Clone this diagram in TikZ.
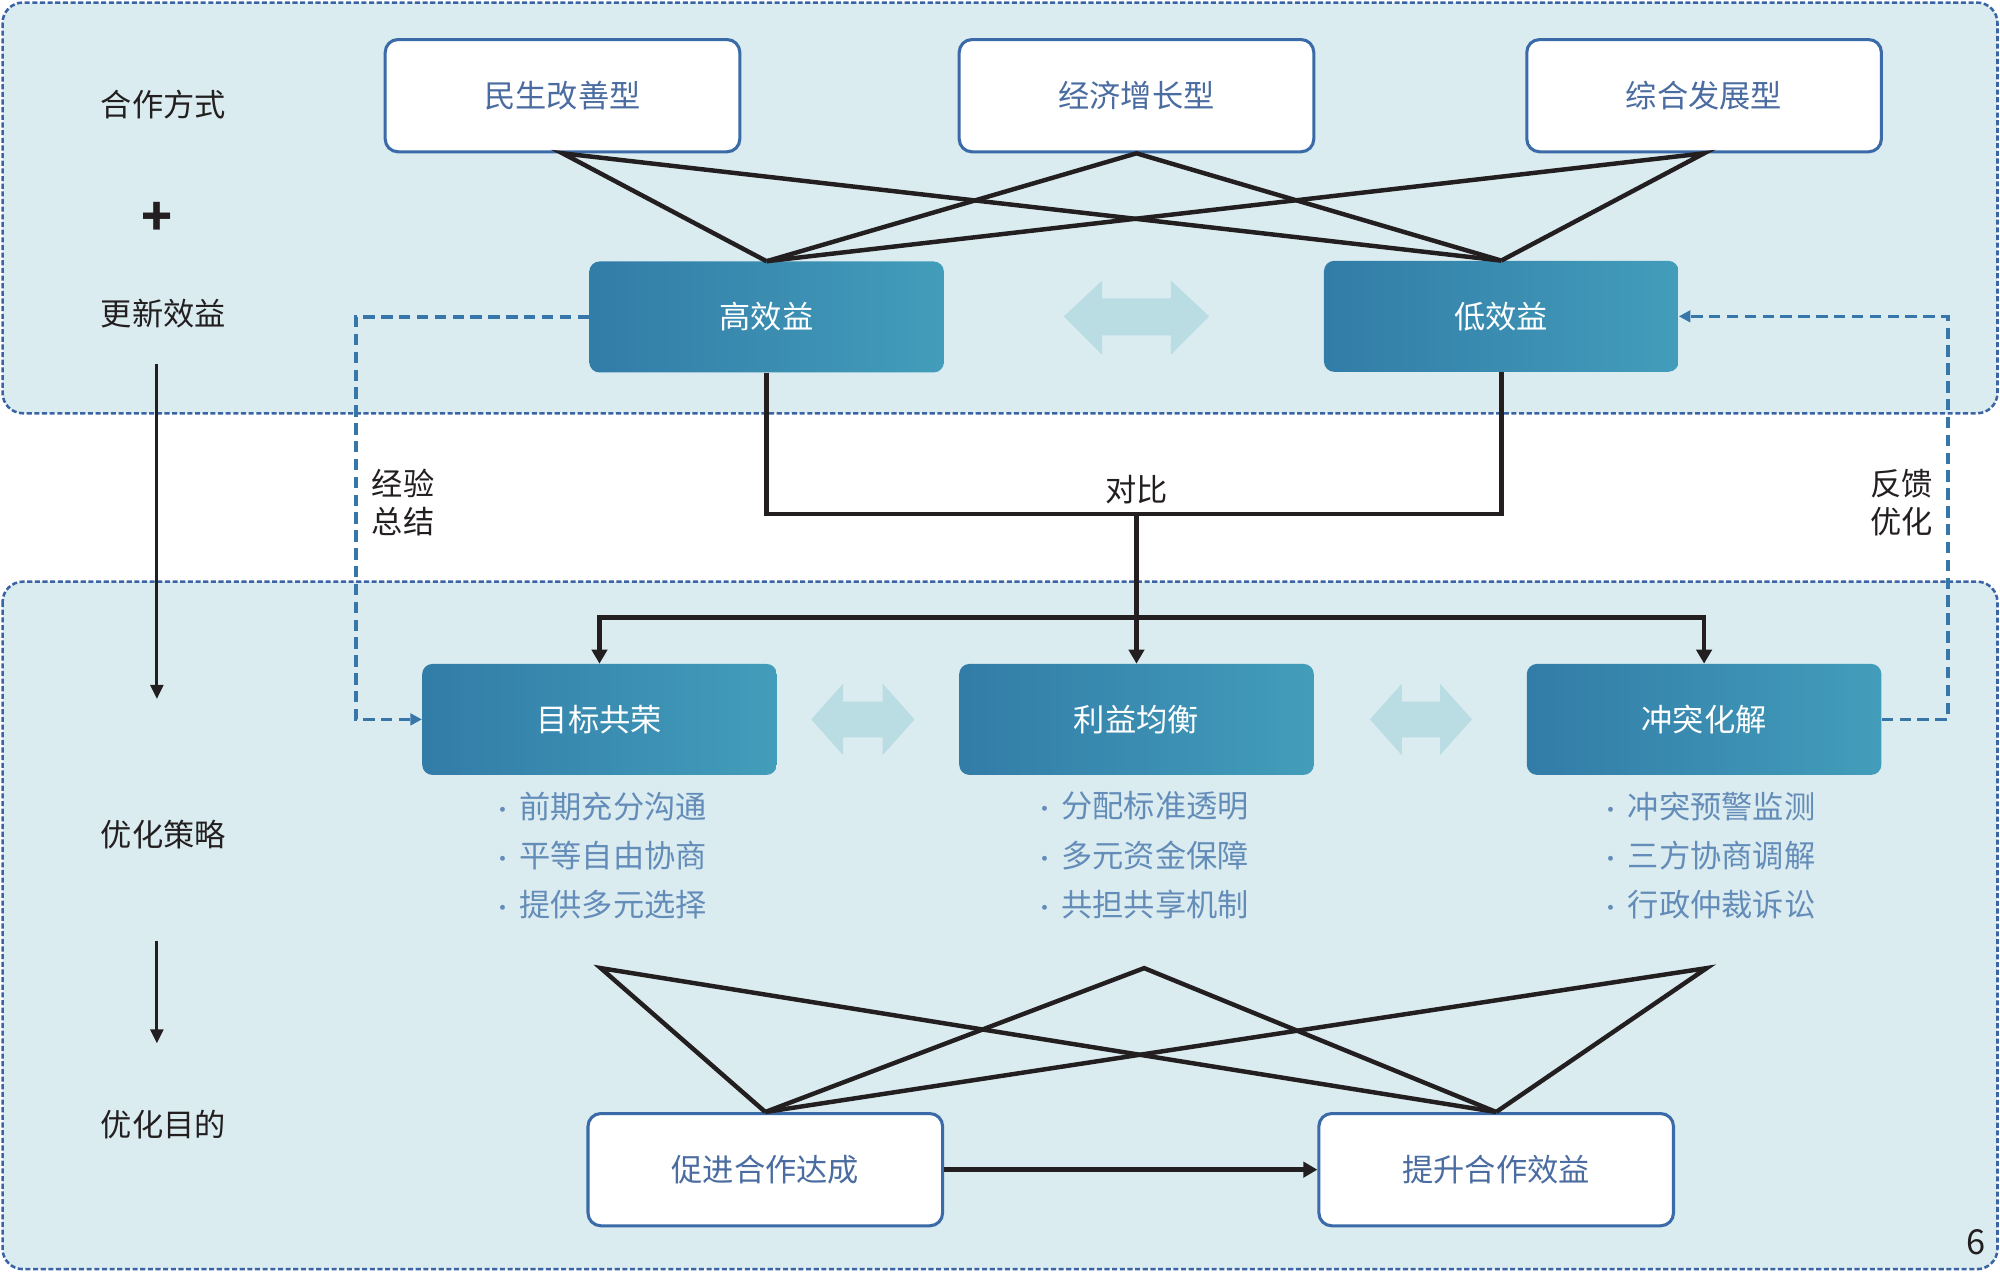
\documentclass[tikz,border=0pt]{standalone}
\usepackage{fontspec}
\setmainfont{Noto Sans CJK SC}
\usetikzlibrary{arrows.meta}
\definecolor{panelfill}{RGB}{218,236,240}
\definecolor{panelline}{RGB}{58,100,165}
\definecolor{boxline}{RGB}{58,106,168}
\definecolor{boxtext}{RGB}{74,108,160}
\definecolor{bullettext}{RGB}{100,140,185}
\definecolor{gradL}{RGB}{50,124,168}
\definecolor{gradR}{RGB}{66,157,186}
\definecolor{dashc}{RGB}{55,118,168}
\definecolor{dblarrow}{RGB}{186,221,228}
\definecolor{ink}{RGB}{35,31,32}
\newcommand{\bdot}{\makebox[19pt][l]{\hspace{-3pt}\fontsize{18pt}{18pt}\selectfont ·}}
\tikzset{
  panel/.style={draw=panelline, fill=panelfill, line width=2pt, dash pattern=on 4pt off 2pt, rounded corners=16pt},
  whitebox/.style={draw=boxline, line width=2.4pt, fill=white, rounded corners=10pt, minimum width=278pt, minimum height=88pt, text=boxtext, inner sep=0pt},
  gradbox/.style={left color=gradL, right color=gradR, rounded corners=8pt, minimum width=278pt, minimum height=87pt, text=white, inner sep=0pt},
  sidelabel/.style={text=ink, inner sep=0pt},
  bullet/.style={text=bullettext, anchor=west, inner sep=0pt},
  conn/.style={draw=ink, line width=3.5pt, line join=miter},
  arr/.style={conn, -{Triangle[length=11pt,width=12pt]}},
  thinarr/.style={draw=ink, line width=2.4pt, -{Triangle[length=11pt,width=10pt]}},
  fb/.style={draw=dashc, line width=2.8pt, dash pattern=on 9pt off 5pt},
  fbarr/.style={fb, -{Triangle[length=9pt,width=9pt]}},
  dbl/.style={fill=dblarrow, draw=none}
}
\begin{document}
\begin{tikzpicture}[x=1pt,y=-1pt, font=\fontsize{24.5pt}{29pt}\selectfont]
\useasboundingbox (0,0) rectangle (1568,997);
% panels
\draw[panel] (2,2) rectangle (1566,324);
\draw[panel] (2,456) rectangle (1566,995);

% side labels
\node[sidelabel] (s1) at (128,82) {合作方式};
\node[sidelabel, font=\fontsize{40pt}{40pt}\selectfont\bfseries] (plus) at (123,172) {+};
\node[sidelabel] (s2) at (128,246) {更新效益};
\node[sidelabel] (s3) at (128,654) {优化策略};
\node[sidelabel] (s4) at (128,882) {优化目的};
\coordinate (a1s) at (123,285);
\coordinate (a1e) at (123,548);
\coordinate (a2s) at (123,738);
\coordinate (a2e) at (123,818);
\draw[thinarr] (a1s) -- (a1e);
\draw[thinarr] (a2s) -- (a2e);

% top boxes
\node[whitebox] (m1) at (441,75) {民生改善型};
\node[whitebox] (m2) at (891,75) {经济增长型};
\node[whitebox] (m3) at (1336,75) {综合发展型};

% middle boxes
\node[gradbox] (h) at (601,248.5) {高效益};
\node[gradbox] (l) at (1177,248) {低效益};

% bottom strategy boxes
\node[gradbox] (g1) at (470,564) {目标共荣};
\node[gradbox] (g2) at (891,564) {利益均衡};
\node[gradbox] (g3) at (1336,564) {冲突化解};

% goal boxes
\node[whitebox] (b1) at (600,917) {促进合作达成};
\node[whitebox] (b2) at (1173,917) {提升合作效益};

% light double arrows
\fill[dbl] (834,248) -- (864,220) -- (864,234) -- (918,234) -- (918,220) -- (948,248) -- (918,278) -- (918,263) -- (864,263) -- (864,278) -- cycle;
\fill[dbl] (636,564) -- (661,536) -- (661,550) -- (692,550) -- (692,536) -- (717,564) -- (692,592) -- (692,578) -- (661,578) -- (661,592) -- cycle;
\fill[dbl] (1074,564) -- (1099,536) -- (1099,550) -- (1129,550) -- (1129,536) -- (1154,564) -- (1129,592) -- (1129,578) -- (1099,578) -- (1099,592) -- cycle;

% top crossing lines
\draw[conn] (h.north) -- (m1.south) -- (l.north);
\draw[conn] (h.north) -- (m2.south) -- (l.north);
\draw[conn] (h.north) -- (m3.south) -- (l.north);

% comparison bracket
\coordinate (cmp) at (891,403);
\coordinate (split) at (891,484);
\draw[conn] (h.south) |- (cmp) -| (l.south);
\node[sidelabel] (cmplabel) at (891,384) {对比};
\draw[arr] (cmp) -- (g2.north);
\draw[arr] (split) -| (g1.north);
\draw[arr] (split) -| (g3.north);

% feedback dashed lines
\coordinate (fbL) at (279,400);
\coordinate (fbR) at (1527,400);
\draw[fbarr] (h.west) -| (fbL) |- (g1.west);
\draw[fbarr] (g3.east) -| (fbR) |- (l.east);
\node[sidelabel, align=center, font=\fontsize{24.5pt}{30pt}\selectfont] (lblL) at (316,394) {经验\\总结};
\node[sidelabel, align=center, font=\fontsize{24.5pt}{30pt}\selectfont] (lblR) at (1491,394) {反馈\\优化};

% bullet lists
\node[bullet] (t11) at (388,632) {\bdot 前期充分沟通};
\node[bullet] (t12) at (388,671) {\bdot 平等自由协商};
\node[bullet] (t13) at (388,709) {\bdot 提供多元选择};
\node[bullet] (t21) at (813,632) {\bdot 分配标准透明};
\node[bullet] (t22) at (813,671) {\bdot 多元资金保障};
\node[bullet] (t23) at (813,709) {\bdot 共担共享机制};
\node[bullet] (t31) at (1257,632) {\bdot 冲突预警监测};
\node[bullet] (t32) at (1257,671) {\bdot 三方协商调解};
\node[bullet] (t33) at (1257,709) {\bdot 行政仲裁诉讼};

% bottom crossing lines
\coordinate (q1) at (471,759);
\coordinate (q2) at (897,759);
\coordinate (q3) at (1338,759);
\draw[conn] (b1.north) -- (q1) -- (b2.north);
\draw[conn] (b1.north) -- (q2) -- (b2.north);
\draw[conn] (b1.north) -- (q3) -- (b2.north);
\draw[arr] (b1.east) -- (b2.west);

% page number
\node[sidelabel, font=\fontsize{27pt}{27pt}\selectfont] (pg) at (1549,974) {6};
\end{tikzpicture}
\end{document}
